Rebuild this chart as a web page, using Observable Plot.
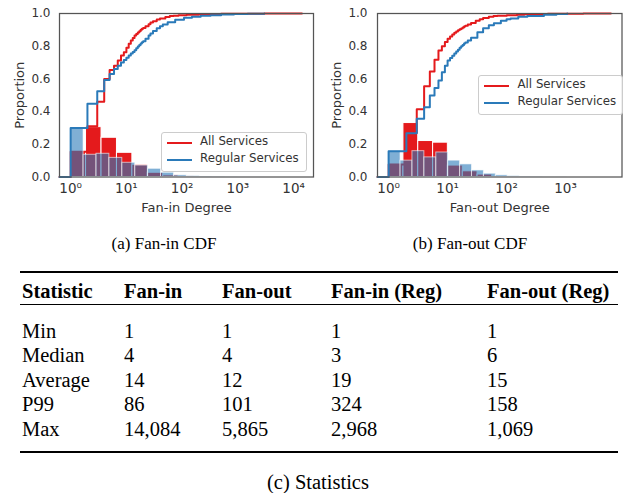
<!DOCTYPE html>
<html><head><meta charset="utf-8">
<script src="https://cdn.jsdelivr.net/npm/d3@7"></script>
<script src="https://cdn.jsdelivr.net/npm/@observablehq/plot@0.6"></script>
<style>
html,body{margin:0;padding:0;background:#fff;}
#page{position:relative;width:626px;height:493px;overflow:hidden;}
.panel{position:absolute;top:0;}
.legend{position:absolute;border:1px solid #cccccc;border-radius:3px;background:rgba(255,255,255,0.85);font-family:"DejaVu Sans";font-size:11.8px;color:#333;box-sizing:border-box;}
.legend .sw{position:absolute;height:2px;width:25px;}
.legend .lt{position:absolute;line-height:1;white-space:nowrap;}
.serif{position:absolute;font-family:"Liberation Serif","Times New Roman",serif;color:#000;white-space:nowrap;line-height:1;}
.rule{position:absolute;background:#000;}
</style></head><body><div id="page"></div><script>
// ---------- data ----------
const seriesNames = ["All Services", "Regular Services"];

// Fan-in CDF (step points: degree, cumulative proportion)
const fanInAllX = [1,2,3,4,5,6,7,8,9,10,11,12,13,14,15,16,17,18,19,20,22,25,27,30,35,40,50,60,70,86,120,200,500,1000,3000,14084];
const fanInAllY = [0.155,0.31,0.46,0.60,0.655,0.68,0.713,0.743,0.763,0.79,0.815,0.835,0.85,0.865,0.875,0.884,0.892,0.90,0.906,0.912,0.922,0.935,0.945,0.953,0.963,0.97,0.979,0.984,0.987,0.99,0.993,0.996,0.998,0.999,0.9995,1];
const fanInRegX = [1,2,3,4,5,6,7,8,9,10,11,12,13,14,15,16,17,18,19,20,22,25,27,30,35,40,45,55,75,108,150,215,324,500,850,1500,2968];
const fanInRegY = [0.30,0.448,0.525,0.594,0.63,0.66,0.68,0.70,0.715,0.73,0.743,0.755,0.765,0.775,0.787,0.798,0.808,0.816,0.824,0.83,0.845,0.865,0.878,0.893,0.91,0.922,0.932,0.947,0.962,0.974,0.98,0.986,0.99,0.994,0.997,0.999,1];

// Fan-out CDF
const fanOutAllX = [1,2,3,4,5,6,7,8,9,10,11,12,13,14,15,16,17,18,19,20,22,25,30,35,40,50,60,70,101,150,200,300,500,1000,2000,5865];
const fanOutAllY = [0.077,0.27,0.415,0.555,0.645,0.717,0.774,0.80,0.825,0.845,0.86,0.872,0.882,0.89,0.897,0.903,0.909,0.915,0.92,0.925,0.933,0.942,0.955,0.965,0.972,0.98,0.984,0.987,0.99,0.993,0.995,0.997,0.998,0.999,0.9995,1];
const fanOutRegX = [1,2,3,4,5,6,7,8,9,10,11,12,13,14,15,16,17,18,19,20,22,25,32,40,50,61,80,100,117,158,225,430,700,1069];
const fanOutRegY = [0.158,0.268,0.356,0.427,0.498,0.545,0.59,0.64,0.68,0.713,0.728,0.742,0.755,0.767,0.778,0.79,0.80,0.808,0.816,0.823,0.835,0.852,0.886,0.91,0.928,0.94,0.955,0.965,0.97,0.98,0.985,0.993,0.997,1];

// Histograms (log-spaced bin edges, proportion per bin)
const fanInAllEdges = [1,1.89,3.58,6.77,12.8,24.2,45.8,86.7,164,310,587,1110,2100,3975,7520,14084];
const fanInAllHist = [0.155,0.305,0.24,0.148,0.075,0.026,0.01,0.004,0.002,0.001,0.0007,0.0004,0.0002,0.0001,0.0001];
const fanInRegEdges = [1,1.704,2.905,4.95,8.44,14.4,24.5,41.8,71.3,121.5,207,353,602,1026,1749,2968];
const fanInRegHist = [0.30,0.136,0.142,0.117,0.087,0.07,0.05,0.026,0.01,0.005,0.003,0.002,0.001,0.0005,0.0005];
const fanOutAllEdges = [1,1.784,3.18,5.68,10.1,18.1,32.2,57.5,102.6,183,327,583,1040,1856,3311,5865];
const fanOutAllHist = [0.077,0.33,0.22,0.21,0.07,0.035,0.015,0.006,0.003,0.0015,0.001,0.0005,0.0003,0.0002,0.0001];
const fanOutRegEdges = [1,1.592,2.535,4.036,6.43,10.23,16.3,25.9,41.3,65.8,104.7,166.7,265,422,672,1069];
const fanOutRegHist = [0.158,0.10,0.158,0.12,0.15,0.10,0.077,0.04,0.02,0.01,0.005,0.003,0.002,0.001,0.001];

// Axes
const fanInDomain = [0.631, 22700];
const fanOutDomain = [0.648, 9057];
const fanInTicks = [1,10,100,1000,10000];
const fanInTickLabels = ["10⁰","10¹","10²","10³","10⁴"];
const fanOutTicks = [1,10,100,1000];
const fanOutTickLabels = ["10⁰","10¹","10²","10³"];
const yTicks = [0,0.2,0.4,0.6,0.8,1.0];
const yTickLabels = ["0.0","0.2","0.4","0.6","0.8","1.0"];
const yLabel = "Proportion";
const fanInXLabel = "Fan-in Degree";
const fanOutXLabel = "Fan-out Degree";
const captionA = "(a) Fan-in CDF";
const captionB = "(b) Fan-out CDF";

// Table
const tableHeaders = ["Statistic","Fan-in","Fan-out","Fan-in (Reg)","Fan-out (Reg)"];
const statNames = ["Min","Median","Average","P99","Max"];
const fanInStats = ["1","4","14","86","14,084"];
const fanOutStats = ["1","4","12","101","5,865"];
const fanInRegStats = ["1","3","19","324","2,968"];
const fanOutRegStats = ["1","6","15","158","1,069"];
const captionC = "(c) Statistics";

// ---------- drawing ----------
const RED = "#e41a1c", BLUE = "#2a7ab9";
const page = document.getElementById("page");

function cdfData(xs, ys, x0) {
  return [{x: x0, y: 0}, ...xs.map((x, i) => ({x, y: ys[i]}))];
}
function histData(edges, hs) {
  return hs.map((h, i) => ({x1: edges[i], x2: edges[i + 1], h}));
}

function panel(o) {
  const xl = new Map(o.ticks.map((t, i) => [t, o.tickLabels[i]]));
  const yl = new Map(yTicks.map((t, i) => [t, yTickLabels[i]]));
  return Plot.plot({
    width: o.w, height: 225,
    marginLeft: o.mL, marginRight: o.mR, marginTop: 13, marginBottom: 48.5,
    style: {fontFamily: "DejaVu Sans", fontSize: "12px", color: "#333", background: "transparent", overflow: "visible"},
    x: {type: "log", domain: o.domain},
    y: {domain: [0, 1]},
    marks: [
      Plot.rectY(o.histAll, {x1: "x1", x2: "x2", y: "h", fill: RED, stroke: "white", strokeWidth: 1}),
      Plot.line(o.cdfAll, {x: "x", y: "y", curve: "step-after", stroke: RED, strokeWidth: 2}),
      Plot.rectY(o.histReg, {x1: "x1", x2: "x2", y: "h", fill: BLUE, fillOpacity: 0.6, stroke: "white", strokeOpacity: 0.6, strokeWidth: 1}),
      Plot.line(o.cdfReg, {x: "x", y: "y", curve: "step-after", stroke: BLUE, strokeWidth: 2}),
      Plot.frame({stroke: "#555", strokeWidth: 1.25}),
      Plot.axisX({ticks: o.ticks, tickFormat: d => xl.get(d), tickSize: 0, tickPadding: 6, fontSize: 13.5, label: null}),
      Plot.axisX({ticks: [], label: o.xLabel, labelArrow: "none", labelAnchor: "center", labelOffset: 35, fontSize: 13}),
      Plot.axisY({ticks: yTicks, tickFormat: d => yl.get(d), tickSize: 0, tickPadding: o.yPad, label: null}),
      Plot.axisY({ticks: [], label: yLabel, labelArrow: "none", labelAnchor: "center", labelOffset: o.yLabOff, fontSize: 13})
    ]
  });
}

const left = panel({
  w: 318, mL: 59, mR: 5, domain: fanInDomain, ticks: fanInTicks, tickLabels: fanInTickLabels,
  xLabel: fanInXLabel, yPad: 9, yLabOff: 45,
  histAll: histData(fanInAllEdges, fanInAllHist), histReg: histData(fanInRegEdges, fanInRegHist),
  cdfAll: cdfData(fanInAllX, fanInAllY, fanInDomain[0]), cdfReg: cdfData(fanInRegX, fanInRegY, fanInDomain[0])
});
left.classList.add("panel"); left.style.left = "0px";
page.appendChild(left);

const right = panel({
  w: 313, mL: 64, mR: 4.5, domain: fanOutDomain, ticks: fanOutTicks, tickLabels: fanOutTickLabels,
  xLabel: fanOutXLabel, yPad: 10, yLabOff: 45.5,
  histAll: histData(fanOutAllEdges, fanOutAllHist), histReg: histData(fanOutRegEdges, fanOutRegHist),
  cdfAll: cdfData(fanOutAllX, fanOutAllY, fanOutDomain[0]), cdfReg: cdfData(fanOutRegX, fanOutRegY, fanOutDomain[0])
});
right.classList.add("panel"); right.style.left = "313px";
page.appendChild(right);

function legend(x, y, w, h, swX, txtX, rowY) {
  const d = document.createElement("div");
  d.className = "legend";
  Object.assign(d.style, {left: x + "px", top: y + "px", width: w + "px", height: h + "px"});
  seriesNames.forEach((name, i) => {
    const s = document.createElement("div");
    s.className = "sw";
    Object.assign(s.style, {left: swX + "px", top: (rowY[i] - 1) + "px", background: i ? BLUE : RED});
    d.appendChild(s);
    const t = document.createElement("div");
    t.className = "lt";
    t.textContent = name;
    Object.assign(t.style, {left: txtX + "px", top: (rowY[i] - 6.7) + "px"});
    d.appendChild(t);
  });
  page.appendChild(d);
}
legend(161, 132, 146, 40, 5, 38, [9.5, 27]);
legend(478, 75, 145, 39.5, 5, 38.5, [9.5, 27]);

function serifText(txt, x, baseline, size, opts = {}) {
  const d = document.createElement("div");
  d.className = "serif";
  d.textContent = txt;
  const top = baseline - 0.837 * size;
  Object.assign(d.style, {top: top + "px", fontSize: size + "px"});
  if (opts.center) { d.style.left = x + "px"; d.style.transform = "translateX(-50%)"; }
  else d.style.left = x + "px";
  if (opts.bold) d.style.fontWeight = "bold";
  page.appendChild(d);
}
function rule(x1, x2, y, h) {
  const r = document.createElement("div");
  r.className = "rule";
  Object.assign(r.style, {left: x1 + "px", top: y + "px", width: (x2 - x1) + "px", height: h + "px"});
  page.appendChild(r);
}

serifText(captionA, 164, 249, 17, {center: true});
serifText(captionB, 470, 249, 17, {center: true});

const colX = [22, 124, 222, 331, 487];
const rowBase = [338, 362.5, 387, 411.5, 436];
rule(20, 618, 271, 2);
tableHeaders.forEach((h, j) => serifText(h, colX[j], 298, 20.5, {bold: true}));
rule(20, 618, 304, 1.3);
const cols = [statNames, fanInStats, fanOutStats, fanInRegStats, fanOutRegStats];
statNames.forEach((_, i) => cols.forEach((c, j) => serifText(c[i], colX[j], rowBase[i], 20.5)));
rule(20, 618, 451, 2);
serifText(captionC, 318, 489, 20.5, {center: true});
</script></body></html>
